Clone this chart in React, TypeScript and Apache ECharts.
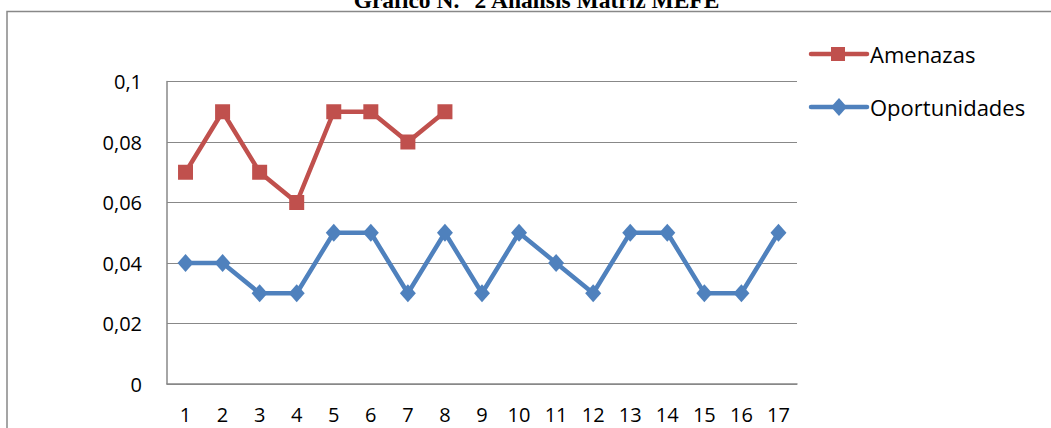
import React, { useEffect, useRef } from "react";
import * as echarts from "echarts";

const categories = ["1","2","3","4","5","6","7","8","9","10","11","12","13","14","15","16","17"];
const amenazas = [0.07, 0.09, 0.07, 0.06, 0.09, 0.09, 0.08, 0.09];
const oportunidades = [0.04, 0.04, 0.03, 0.03, 0.05, 0.05, 0.03, 0.05, 0.03, 0.05, 0.04, 0.03, 0.05, 0.05, 0.03, 0.03, 0.05];
const titleText = "Gráfico N.° 2 Análisis Matriz MEFE";
const seriesNames = ["Amenazas", "Oportunidades"];
const RED = "#C0504D";
const BLUE = "#4F81BD";

export default function App() {
  const ref = useRef<HTMLDivElement>(null);
  useEffect(() => {
    if (!ref.current) return;
    const chart = echarts.init(ref.current, null, { renderer: "svg" });
    const font = "'Open Sans', 'Noto Sans', sans-serif";
    const legendY = [54, 107];
    const legendGraphics: any[] = [];
    legendGraphics.push({
      type: "line",
      shape: { x1: 811, y1: legendY[0], x2: 867, y2: legendY[0] },
      style: { stroke: RED, lineWidth: 4.5, lineCap: "round" },
    });
    legendGraphics.push({
      type: "rect",
      shape: { x: 831, y: legendY[0] - 7, width: 14, height: 14 },
      style: { fill: RED },
    });
    legendGraphics.push({
      type: "text",
      x: 870,
      y: legendY[0],
      style: { text: seriesNames[0], fill: "#000", font: `22px ${font}`, textVerticalAlign: "middle" },
    });
    legendGraphics.push({
      type: "line",
      shape: { x1: 811, y1: legendY[1], x2: 867, y2: legendY[1] },
      style: { stroke: BLUE, lineWidth: 4.5, lineCap: "round" },
    });
    legendGraphics.push({
      type: "polygon",
      shape: {
        points: [
          [839, legendY[1] - 9],
          [847, legendY[1]],
          [839, legendY[1] + 9],
          [831, legendY[1]],
        ],
      },
      style: { fill: BLUE },
    });
    legendGraphics.push({
      type: "text",
      x: 870,
      y: legendY[1],
      style: { text: seriesNames[1], fill: "#000", font: `22px ${font}`, textVerticalAlign: "middle" },
    });

    chart.setOption({
      animation: false,
      backgroundColor: "#fff",
      graphic: [
        {
          type: "rect",
          shape: { x: 7, y: 11.5, width: 1100, height: 500 },
          style: { fill: "none", stroke: "#888", lineWidth: 1.5 },
          silent: true,
        },
        {
          type: "text",
          x: 536.5,
          y: 12,
          style: {
            text: titleText,
            fill: "#000",
            font: "bold 23.5px 'Liberation Serif', 'Times New Roman', serif",
            textAlign: "center",
            textVerticalAlign: "bottom",
          },
        },
        ...legendGraphics,
      ],
      grid: { left: 167, right: 254, top: 81.5, bottom: 44, containLabel: false },
      xAxis: {
        type: "category",
        data: categories,
        boundaryGap: true,
        axisLine: { show: true, lineStyle: { color: "#888", width: 1.5 } },
        axisTick: { show: false },
        axisLabel: { color: "#000", fontSize: 20, fontFamily: font, margin: 20 },
      },
      yAxis: {
        type: "value",
        min: 0,
        max: 0.1,
        interval: 0.02,
        axisLine: { show: true, lineStyle: { color: "#888", width: 1.5 } },
        axisTick: { show: false },
        splitLine: { show: true, lineStyle: { color: "#888", width: 1.2 } },
        axisLabel: {
          color: "#000",
          fontSize: 20,
          fontFamily: font,
          margin: 25,
          formatter: (v: number) => String(Math.round(v * 100) / 100).replace(".", ","),
        },
      },
      series: [
        {
          name: seriesNames[0],
          type: "line",
          data: amenazas,
          symbol: "rect",
          symbolSize: 15,
          color: RED,
          lineStyle: { width: 4.5, color: RED },
          itemStyle: { color: RED },
        },
        {
          name: seriesNames[1],
          type: "line",
          data: oportunidades,
          symbol: "diamond",
          symbolSize: [16, 18],
          color: BLUE,
          lineStyle: { width: 4.5, color: BLUE },
          itemStyle: { color: BLUE },
        },
      ],
    });
    return () => chart.dispose();
  }, []);
  return (
    <div
      ref={ref}
      style={{ position: "fixed", left: 0, top: 0, width: 1051, height: 428, background: "#fff" }}
    />
  );
}
